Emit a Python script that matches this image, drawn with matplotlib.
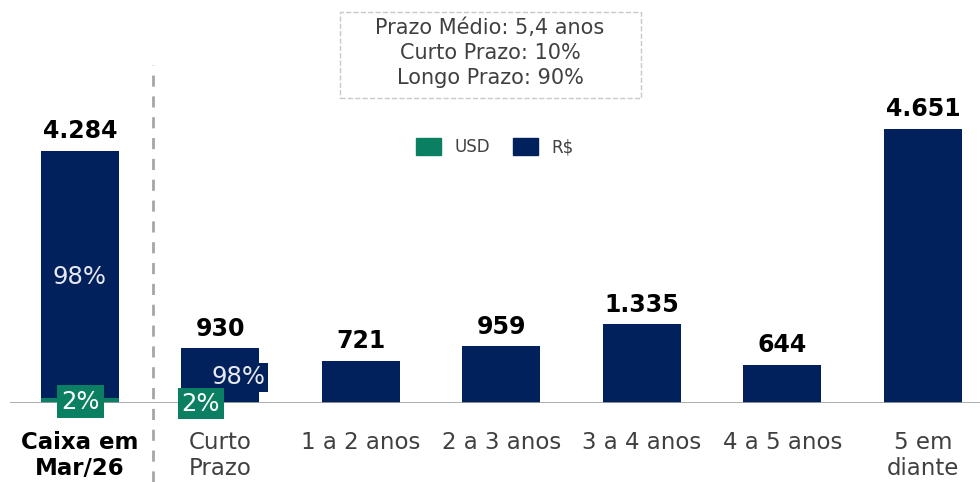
import matplotlib.pyplot as plt
from matplotlib.patches import Patch, Rectangle
from matplotlib.lines import Line2D

categories = ["Caixa em\nMar/26", "Curto\nPrazo", "1 a 2 anos", "2 a 3 anos",
              "3 a 4 anos", "4 a 5 anos", "5 em\ndiante"]
totals = [4284, 930, 721, 959, 1335, 644, 4651]
usd_share = [0.02, 0.02, 0, 0, 0, 0, 0]
value_labels = ["4.284", "930", "721", "959", "1.335", "644", "4.651"]
info_lines = ["Prazo Médio: 5,4 anos", "Curto Prazo: 10%", "Longo Prazo: 90%"]

navy = "#00215B"
green = "#0B7F62"
gray = "#404040"

usd = [t * s for t, s in zip(totals, usd_share)]
brl = [t - u for t, u in zip(totals, usd)]
x = list(range(len(categories)))

fig = plt.figure(figsize=(9.8, 4.82), dpi=100)
ax = fig.add_axes([10 / 980, 79 / 482, 970 / 980, 403 / 482])

ax.bar(x, usd, width=0.555, color=green)
ax.bar(x, brl, bottom=usd, width=0.555, color=navy)

ax.set_xlim(-0.498, 6.406)
ax.set_ylim(0, 6840)

for i in x:
    ax.text(i, totals[i] + 130, value_labels[i], ha="center", va="bottom",
            fontsize=17, fontweight="bold", color="black")

# percentage labels
ax.text(0, totals[0] / 2, "98%", ha="center", va="center", fontsize=17.5, color="#E8E8F0")
ax.text(0.005, 20, "2%", ha="center", va="center", fontsize=17.5, color="white",
        bbox=dict(boxstyle="square,pad=0.18", fc=green, ec="none"))
ax.text(1.13, 440, "98%", ha="center", va="center", fontsize=17.5, color="#E8E8F0",
        bbox=dict(boxstyle="square,pad=0.1", fc=navy, ec="none"))
ax.text(0.86, -10, "2%", ha="center", va="center", fontsize=17.5, color="white",
        bbox=dict(boxstyle="square,pad=0.15", fc=green, ec="none"))

ax.axhline(0, color="#A0A0A0", lw=1.2)

for s in ax.spines.values():
    s.set_visible(False)
ax.set_yticks([])
ax.set_xticks(x)
ax.set_xticklabels(categories, fontsize=16.5, color=gray, linespacing=1.2)
ax.tick_params(axis="x", length=0, pad=20)
lab0 = ax.get_xticklabels()[0]
lab0.set_fontweight("bold")
lab0.set_color("black")

# dashed separator
fig.add_artist(Line2D([153 / 980, 153 / 980], [0, 1 - 65 / 482], color="#A6A6A6",
                      lw=2, ls=(0, (4, 3.5))))

# info box
fig.add_artist(Rectangle((340 / 980, 1 - 98 / 482), 301 / 980, 86 / 482, fill=False,
                         ec="#C8C8C8", ls="--", lw=1))
for k, line in enumerate(info_lines):
    fig.text(490 / 980, 1 - (28 + 25 * k) / 482, line, ha="center", va="center",
             fontsize=15, color=gray)

handles = [Patch(color=green, label="USD"), Patch(color=navy, label="R$")]
fig.legend(handles=handles, loc="center", bbox_to_anchor=(495 / 980, 1 - 147 / 482),
           ncol=2, frameon=False, fontsize=12, handlelength=1.5, handleheight=1.2,
           handletextpad=0.8, columnspacing=1.4, labelcolor=gray)

plt.savefig("out.png", dpi=100)
